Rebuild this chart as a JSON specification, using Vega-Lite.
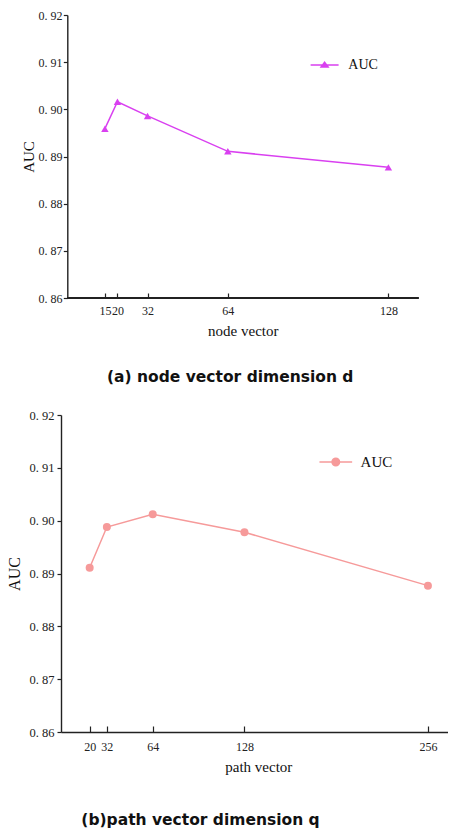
{
  "$schema": "https://vega.github.io/schema/vega-lite/v6.json",
  "padding": {"left": 6, "top": 9, "right": 0, "bottom": 0},
  "spacing": 23,
  "resolve": {"scale": {"color": "independent"}, "legend": {"color": "independent"}},
  "config": {
    "view": {"stroke": null},
    "axis": {"grid": false, "domainColor": "#222", "tickColor": "#222", "labelColor": "#222", "titleColor": "#111", "labelFont": "Liberation Serif", "titleFont": "Liberation Serif", "titleFontWeight": "normal", "domainWidth": 1.4, "tickWidth": 1.2}
  },
  "vconcat": [
    {
      "width": 357.5,
      "height": 283,
      "title": {"text": "(a) node vector dimension d", "orient": "bottom", "anchor": "middle", "dx": -9.5, "offset": 32, "font": "DejaVu Sans", "fontSize": 15.5, "fontWeight": "bold", "color": "#111"},
      "data": {"values": [
        {"d": 15, "auc": 0.8959, "series": "AUC"},
        {"d": 20, "auc": 0.9016, "series": "AUC"},
        {"d": 32, "auc": 0.8986, "series": "AUC"},
        {"d": 64, "auc": 0.8911, "series": "AUC"},
        {"d": 128, "auc": 0.8877, "series": "AUC"}
      ]},
      "layer": [
        {
          "mark": {"type": "line", "color": "#d940f0", "strokeWidth": 1.5},
          "encoding": {
            "x": {"field": "d", "type": "quantitative", "scale": {"domain": [-2.5, 140], "nice": false, "zero": false},
              "axis": {"values": [15, 20, 32, 64, 128], "format": "d", "domain": false, "tickSize": -5, "labelPadding": 12, "labelFontSize": 12, "title": "node vector", "titleFontSize": 15, "titlePadding": 7, "titleX": 181.8}},
            "y": {"field": "auc", "type": "quantitative", "scale": {"domain": [0.86, 0.92], "nice": false, "zero": false},
              "axis": {"values": [0.86, 0.87, 0.88, 0.89, 0.9, 0.91, 0.92], "labelExpr": "replace(format(datum.value, '.2f'), '.', '. ')", "offset": -6.3, "tickSize": 4, "labelPadding": 1.3, "labelFontSize": 12, "title": "AUC", "titleFontSize": 15, "titlePadding": 1.5}}
          }
        },
        {
          "mark": {"type": "point", "shape": "triangle-up", "filled": true, "size": 55, "opacity": 1},
          "encoding": {
            "x": {"field": "d", "type": "quantitative"},
            "y": {"field": "auc", "type": "quantitative"},
            "color": {"field": "series", "type": "nominal", "scale": {"domain": ["AUC"], "range": ["#d940f0"]},
              "legend": {"orient": "none", "legendX": 248.6, "legendY": 35, "title": null, "padding": 0, "symbolType": "M-1,0H1M-0.25,0.14L0,-0.2L0.25,0.14Z", "symbolSize": 784, "symbolStrokeWidth": 1.5, "symbolFillColor": "#d940f0", "symbolStrokeColor": "#d940f0", "labelFont": "Liberation Serif", "labelFontSize": 14, "labelColor": "#111", "labelOffset": 8.7}}
          }
        },
        {
          "mark": {"type": "rule", "color": "#222", "strokeWidth": 1.4},
          "encoding": {
            "x": {"datum": 0, "type": "quantitative"},
            "x2": {"datum": 140},
            "y": {"datum": 0.86, "type": "quantitative"}
          }
        }
      ]
    },
    {
      "width": 387,
      "height": 317,
      "title": {"text": "(b)path vector dimension q", "orient": "bottom", "anchor": "middle", "dx": -54, "offset": 38.3, "font": "DejaVu Sans", "fontSize": 15.5, "fontWeight": "bold", "color": "#111"},
      "data": {"values": [
        {"q": 20, "auc": 0.8911, "series": "AUC"},
        {"q": 32, "auc": 0.8988, "series": "AUC"},
        {"q": 64, "auc": 0.9012, "series": "AUC"},
        {"q": 128, "auc": 0.8978, "series": "AUC"},
        {"q": 256, "auc": 0.8877, "series": "AUC"}
      ]},
      "layer": [
        {
          "mark": {"type": "line", "color": "#f69a9a", "strokeWidth": 1.5},
          "encoding": {
            "x": {"field": "q", "type": "quantitative", "scale": {"domain": [0, 270], "nice": false, "zero": false},
              "axis": {"values": [20, 32, 64, 128, 256], "format": "d", "domain": true, "tickSize": -6, "labelPadding": 15, "labelFontSize": 12, "title": "path vector", "titleFontSize": 15, "titlePadding": 7.3, "titleX": 197.3}},
            "y": {"field": "auc", "type": "quantitative", "scale": {"domain": [0.86, 0.92], "nice": false, "zero": false},
              "axis": {"values": [0.86, 0.87, 0.88, 0.89, 0.9, 0.91, 0.92], "labelExpr": "replace(format(datum.value, '.2f'), '.', '. ')", "tickSize": 4, "labelPadding": 3, "labelFontSize": 12.5, "title": "AUC", "titleFontSize": 16, "titlePadding": 6.2}}
          }
        },
        {
          "mark": {"type": "point", "shape": "circle", "filled": true, "size": 64, "opacity": 1},
          "encoding": {
            "x": {"field": "q", "type": "quantitative"},
            "y": {"field": "auc", "type": "quantitative"},
            "color": {"field": "series", "type": "nominal", "scale": {"domain": ["AUC"], "range": ["#f69a9a"]},
              "legend": {"orient": "none", "legendX": 257.3, "legendY": 29.5, "title": null, "padding": 0, "symbolType": "M-1,0H1M-0.23,0A0.23,0.23,0,1,0,0.23,0A0.23,0.23,0,1,0,-0.23,0Z", "symbolSize": 1069, "symbolStrokeWidth": 1.5, "symbolFillColor": "#f69a9a", "symbolStrokeColor": "#f69a9a", "labelFont": "Liberation Serif", "labelFontSize": 15, "labelColor": "#111", "labelOffset": 7.3}}
          }
        }
      ]
    }
  ]
}
